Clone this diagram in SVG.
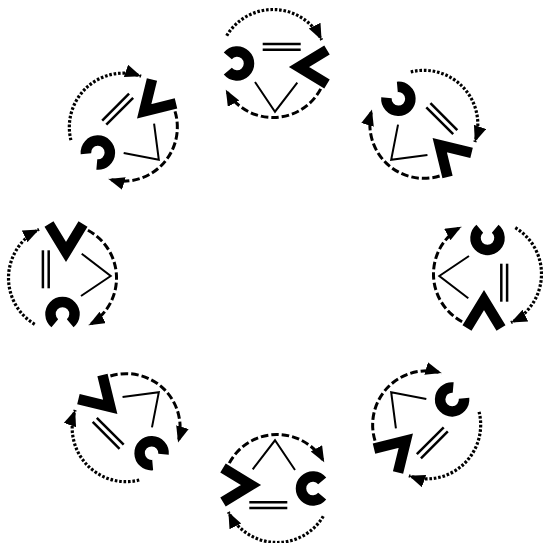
<svg xmlns="http://www.w3.org/2000/svg" xmlns:xlink="http://www.w3.org/1999/xlink" width="543" height="543" viewBox="0 0 543 543">
<style>
.cshape{fill:none;stroke:#000;stroke-width:10.5}
.chev{fill:none;stroke:#000;stroke-width:10.5;stroke-linejoin:miter}
.eq{stroke:#000;stroke-width:2.5}
.thin{fill:none;stroke:#000;stroke-width:2}
.dot{fill:none;stroke:#000;stroke-width:3.2;stroke-dasharray:2.6 1.8}
.dash{fill:none;stroke:#000;stroke-width:3;stroke-dasharray:7.5 3}
</style>
<defs>
<marker id="ah" markerUnits="userSpaceOnUse" markerWidth="17" markerHeight="14" refX="16" refY="6.5" orient="auto" viewBox="0 0 17 14">
<path d="M0,0 L16,6.5 L0,13 z" fill="#000"/>
</marker>
<g id="shapes">
<path class="cshape" d="M-45.2,-7.7 A12,12 0 1 1 -45.2,7.7"/>
<polyline class="chev" points="54,-13.5 26,3.5 54,20.5"/>
<line class="eq" x1="-10.3" y1="-19.6" x2="27.7" y2="-19.6"/>
<line class="eq" x1="-10.3" y1="-13.8" x2="27.7" y2="-13.8"/>
<polyline class="thin" points="-18,18.5 2,48.2 24.3,19.2"/>
</g>
<g id="arcs">
<path class="dot" d="M-46.3,-27.8 A54,54 0 0 1 48.6,-23.5" marker-end="url(#ah)"/>
<path class="dash" d="M47.7,25.4 A54,54 0 0 1 -47.2,26.2" marker-end="url(#ah)"/>
</g>
</defs>
<rect width="543" height="543" fill="#fff"/>
<g id="connectors">
<use xlink:href="#arcs" transform="rotate(0 275 276) translate(273 63.5)"/>
<use xlink:href="#arcs" transform="rotate(45 275 276) translate(273 63.5)"/>
<use xlink:href="#arcs" transform="rotate(90 275 276) translate(273 63.5)"/>
<use xlink:href="#arcs" transform="rotate(135 275 276) translate(273 63.5)"/>
<use xlink:href="#arcs" transform="rotate(180 275 276) translate(273 63.5)"/>
<use xlink:href="#arcs" transform="rotate(225 275 276) translate(273 63.5)"/>
<use xlink:href="#arcs" transform="rotate(270 275 276) translate(273 63.5)"/>
<use xlink:href="#arcs" transform="rotate(315 275 276) translate(273 63.5)"/>
</g>
<g id="node-0" transform="rotate(0 275 276) translate(273 63.5)"><use xlink:href="#shapes"/></g>
<g id="node-1" transform="rotate(45 275 276) translate(273 63.5)"><use xlink:href="#shapes"/></g>
<g id="node-2" transform="rotate(90 275 276) translate(273 63.5)"><use xlink:href="#shapes"/></g>
<g id="node-3" transform="rotate(135 275 276) translate(273 63.5)"><use xlink:href="#shapes"/></g>
<g id="node-4" transform="rotate(180 275 276) translate(273 63.5)"><use xlink:href="#shapes"/></g>
<g id="node-5" transform="rotate(225 275 276) translate(273 63.5)"><use xlink:href="#shapes"/></g>
<g id="node-6" transform="rotate(270 275 276) translate(273 63.5)"><use xlink:href="#shapes"/></g>
<g id="node-7" transform="rotate(315 275 276) translate(273 63.5)"><use xlink:href="#shapes"/></g>
</svg>
